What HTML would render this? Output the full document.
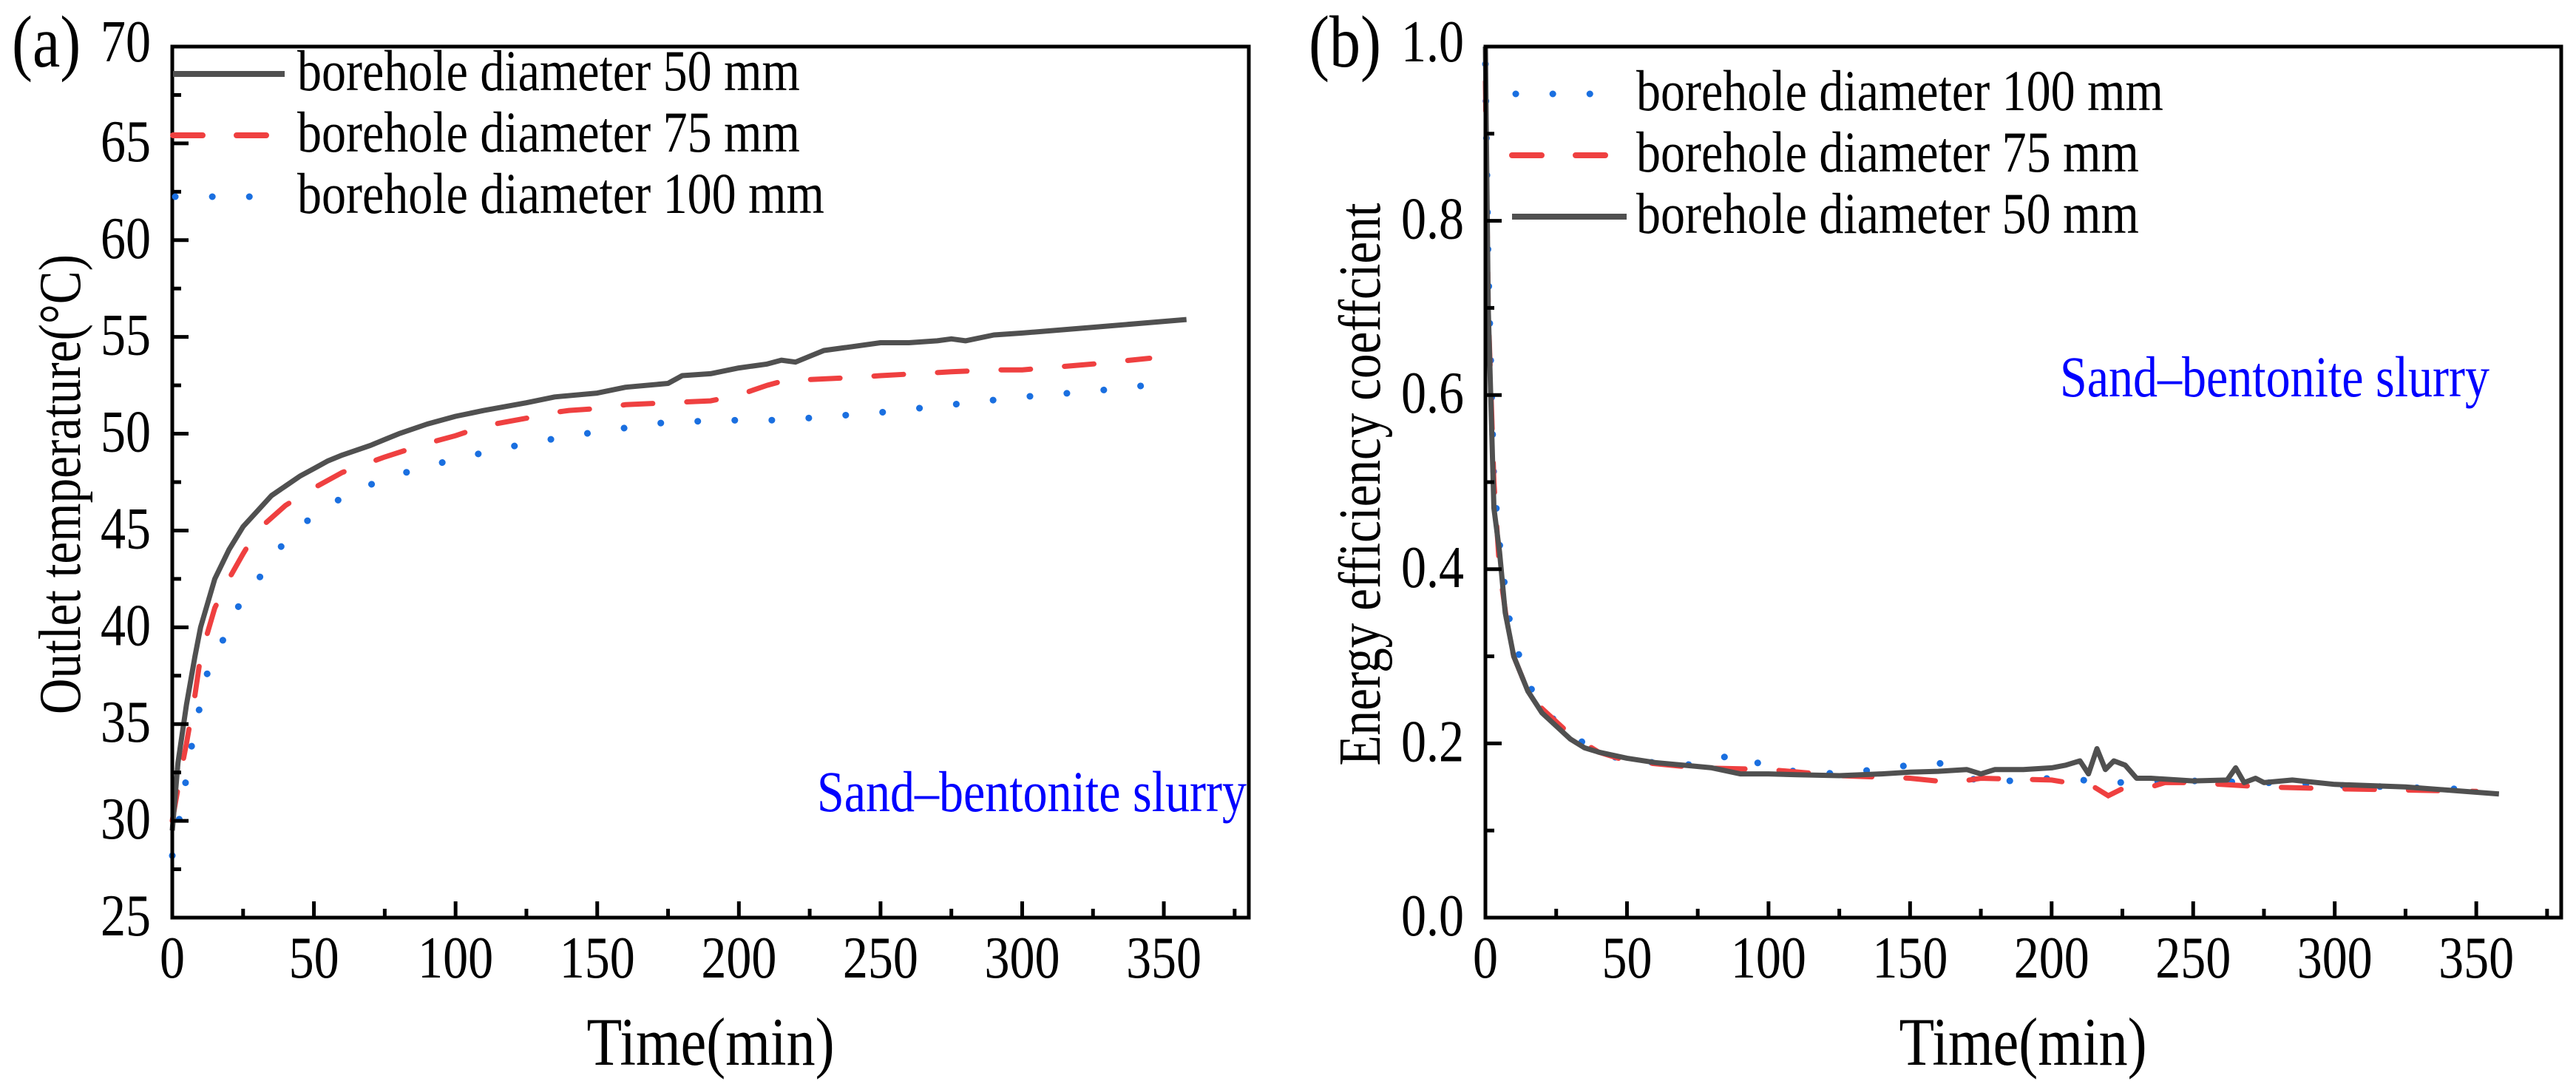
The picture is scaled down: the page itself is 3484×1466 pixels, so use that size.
<!DOCTYPE html>
<html><head><meta charset="utf-8"><style>
html,body{margin:0;padding:0;background:#fff;}
svg{display:block;}
svg text{font-family:"Liberation Serif","DejaVu Serif",serif;}
</style></head><body>
<svg id="fig" width="3484" height="1466" viewBox="0 0 3484 1466"></svg>
<script>
// ---- Panel (a) data: outlet temperature ----
const aT50 = [0,2,5,8,10,15,20,25,30,35,40,45,50,55,60,70,75,80,90,100,110,125,135,150,160,175,180,190,200,210,215,220,225,230,240,250,260,270,275,280,290,300,325,358];
const aV50 = [29.5,33,36,38.5,40,42.5,44,45.2,46,46.8,47.3,47.8,48.2,48.6,48.9,49.4,49.7,50,50.5,50.9,51.2,51.6,51.9,52.1,52.4,52.6,53,53.1,53.4,53.6,53.8,53.7,54,54.3,54.5,54.7,54.7,54.8,54.9,54.8,55.1,55.2,55.5,55.9];
const aT75 = [0,3,5,8,10,15,20,25,30,40,50,60,75,90,100,110,125,130,140,150,160,175,190,200,210,220,225,240,250,275,290,300,325,345];
const aV75 = [30,32.5,34,36.5,38.5,41,42.5,43.8,45,46.3,47.2,48,48.8,49.5,49.9,50.4,50.8,51,51.2,51.3,51.5,51.6,51.7,52,52.5,52.9,52.8,52.9,53,53.2,53.3,53.3,53.6,53.9];
const aT100 = [0,3,7,12,20,25,30,40,50,60,75,90,100,125,150,175,200,215,250,275,300,325,350];
const aV100 = [28.2,30.5,34,37.5,40,41.6,42.4,44.5,45.8,46.7,47.7,48.3,48.7,49.5,50.1,50.6,50.7,50.7,51.1,51.5,51.9,52.2,52.6];
const aXTicks = [0,50,100,150,200,250,300,350];
const aYTicks = [25,30,35,40,45,50,55,60,65,70];
// ---- Panel (b) data: energy efficiency coefficient ----
const bT50 = [0,1,3,5,7,10,15,20,25,30,35,40,50,60,70,80,90,100,110,125,140,150,160,170,175,180,190,200,205,210,213,216,219,222,226,230,235,250,262,265,268,272,275,285,300,325,358];
const bV50 = [1.0,0.7,0.47,0.42,0.35,0.3,0.26,0.235,0.22,0.205,0.195,0.19,0.183,0.178,0.175,0.172,0.165,0.165,0.164,0.163,0.165,0.167,0.168,0.17,0.165,0.17,0.17,0.172,0.175,0.18,0.165,0.194,0.17,0.18,0.175,0.16,0.16,0.157,0.158,0.172,0.155,0.16,0.155,0.158,0.153,0.15,0.142];
const bT75 = [0,1,3,5,8,10,15,20,30,40,50,75,100,125,150,165,175,200,215,220,225,235,240,250,275,300,350];
const bV75 = [0.96,0.7,0.5,0.4,0.33,0.3,0.26,0.24,0.21,0.19,0.18,0.172,0.17,0.163,0.16,0.155,0.16,0.158,0.15,0.14,0.148,0.15,0.155,0.155,0.15,0.148,0.145];
const bT100 = [0,1,3,5,8,10,15,20,30,40,50,75,90,100,125,150,160,175,200,225,250,275,300,350];
const bV100 = [0.98,0.75,0.5,0.43,0.35,0.32,0.27,0.24,0.21,0.19,0.18,0.175,0.19,0.17,0.165,0.175,0.178,0.155,0.16,0.155,0.157,0.155,0.152,0.147];
const bXTicks = [0,50,100,150,200,250,300,350];
const bYTicks = [0.0,0.2,0.4,0.6,0.8,1.0];

const NS = "http://www.w3.org/2000/svg";
const svg = document.getElementById("fig");
function el(tag, attrs, parent){ const e=document.createElementNS(NS,tag); for(const k in attrs) e.setAttribute(k,attrs[k]); (parent||svg).appendChild(e); return e; }
const SY = 1.18;
function txt(parent, x, y, size, anchor, str, extra){
  const a = Object.assign({x:0,y:0,"font-size":size,"text-anchor":anchor,transform:`translate(${x},${y}) scale(1,${SY})`}, extra||{});
  const t = el("text", a, parent); t.textContent = str; return t;
}

const GRAY="#505050", RED="#ef4040", BLUE="#1a6fe0";
const styles = {
  s50:{stroke:GRAY,"stroke-width":7,fill:"none","stroke-linejoin":"round"},
  s75:{stroke:RED,"stroke-width":7,fill:"none","stroke-dasharray":"40 46","stroke-linecap":"round"},
  s100:{stroke:BLUE,"stroke-width":9,fill:"none","stroke-dasharray":"0.1 50","stroke-linecap":"round"}
};

function panel(o){
  const g = el("g",{});
  
  
  const L=o.left, R=o.right, T=63, B=1241;
  const xs = t => L + t*(R-L)/380;
  const ys = v => B - (v-o.ymin)*(B-T)/(o.ymax-o.ymin);
  o.series.forEach(s=>{
    let d=""; s.t.forEach((t,i)=>{ d+=(i?"L":"M")+xs(t).toFixed(1)+","+ys(s.v[i]).toFixed(1); });
    const p=el("path",Object.assign({d:d},styles[s.style]),g);
    
    
  });
  const f=el("rect",{x:L,y:T,width:R-L,height:B-T,fill:"none",stroke:"#000","stroke-width":5},g);
  
  
  for(let t=0;t<=375;t+=25){
    const major = t%50===0;
    el("line",{x1:xs(t),x2:xs(t),y1:B,y2:B-(major?22:12),stroke:"#000","stroke-width":5},g);
  }
  o.xticks.forEach(t=>{
    const tx=txt(g, xs(t), 1322, 68, "middle", String(t));
    
    
  });
  const step=o.yticks[1]-o.yticks[0];
  for(let i=0;i<o.yticks.length;i++){
    const v=o.yticks[i];
    el("line",{x1:L,x2:L+22,y1:ys(v),y2:ys(v),stroke:"#000","stroke-width":5},g);
    if(i<o.yticks.length-1){ const m=v+step/2; el("line",{x1:L,x2:L+12,y1:ys(m),y2:ys(m),stroke:"#000","stroke-width":5},g); }
    const ty = i===o.yticks.length-1 ? 83 : ys(v)+24;
    const tx=txt(g, L-29, ty, 68, "end", o.fmt(v));
    
    
  }
  const xt=txt(g, o.xtx, 1440, 78, "middle", "Time(min)");
  
  
  const yt=el("text",{x:0,y:0,"font-size":80,"text-anchor":"middle",transform:`translate(${o.ytx},655) rotate(-90) scale(0.84,1)`},g);
  yt.textContent=o.ytitle;
  
  
  const pl=txt(g, o.plx, 90, 84, "start", o.plabel);
  
  
  const an=txt(g, o.anx, o.any, 66, "start", "Sand\u2013bentonite slurry", {fill:"#0000ff"});
  
  
  o.legend.forEach(e=>{
    const lg=el("g",{},g);
    
    
    el("path",Object.assign({d:`M${e.x1},${e.y}L${e.x2},${e.y}`},styles[e.style],{"stroke-width":e.style==="s100"?9:8}),lg);
    txt(lg, e.tx, e.y+22, 66, "start", e.label);
  });
}

panel({name:"panel-a-outlet-temperature",left:233,right:1689,ymin:25,ymax:70,xticks:aXTicks,yticks:aYTicks,fmt:v=>String(v),
  xtx:961,ytx:108,ytitle:"Outlet temperature(\u00B0C)",plx:16,plabel:"(a)",anx:1105,any:1097,
  series:[{name:"series-100mm",t:aT100,v:aV100,style:"s100"},{name:"series-75mm",t:aT75,v:aV75,style:"s75"},{name:"series-50mm",t:aT50,v:aV50,style:"s50"}],
  legend:[{y:100,x1:234,x2:385,tx:402,style:"s50",label:"borehole diameter 50 mm"},
          {y:183,x1:234,x2:362,tx:402,style:"s75",label:"borehole diameter 75 mm"},
          {y:266,x1:237,x2:350,tx:402,style:"s100",label:"borehole diameter 100 mm"}]});

panel({name:"panel-b-energy-efficiency",left:2009,right:3464,ymin:0,ymax:1,xticks:bXTicks,yticks:bYTicks,fmt:v=>v.toFixed(1),
  xtx:2736,ytx:1866,ytitle:"Energy efficiency coeffcient",plx:1770,plabel:"(b)",anx:2786,any:536,
  series:[{name:"series-100mm",t:bT100,v:bV100,style:"s100"},{name:"series-75mm",t:bT75,v:bV75,style:"s75"},{name:"series-50mm",t:bT50,v:bV50,style:"s50"}],
  legend:[{y:127,x1:2050,x2:2160,tx:2213,style:"s100",label:"borehole diameter 100 mm"},
          {y:210,x1:2045,x2:2175,tx:2213,style:"s75",label:"borehole diameter 75 mm"},
          {y:293,x1:2045,x2:2200,tx:2213,style:"s50",label:"borehole diameter 50 mm"}]});
</script>
</body></html>
